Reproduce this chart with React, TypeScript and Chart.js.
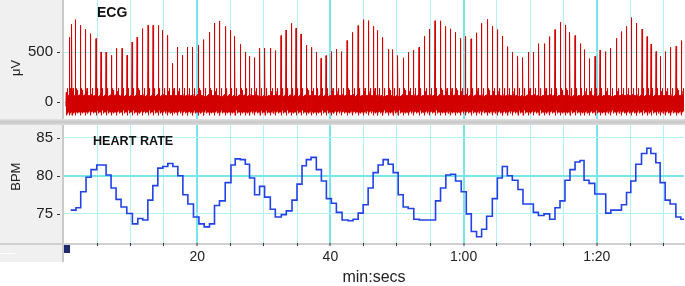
import React, { useEffect, useRef } from 'react';
import { Chart, registerables } from 'chart.js';

Chart.register(...registerables);

// ECG: time (s) of each R peak and its height (µV)
const ecgBeatTimes = [
  0.35, 0.86, 1.20, 1.70, 2.45, 3.20, 4.02, 4.81, 5.56, 6.32,
  7.11, 7.86, 8.72, 9.47, 10.23, 10.98, 11.83, 12.63, 13.38, 14.14,
  14.84, 15.56, 16.29, 17.04, 17.85, 18.60, 19.35, 20.15, 21.01, 21.80,
  22.60, 23.41, 24.21, 24.96, 25.67, 26.47, 27.22, 27.92, 28.62, 29.43,
  30.18, 31.02, 31.77, 32.59, 33.34, 34.14, 34.84, 35.59, 36.39, 37.19,
  37.89, 38.60, 39.35, 40.15, 40.95, 41.70, 42.51, 43.35, 44.17, 44.96,
  45.76, 46.51, 47.14, 47.89, 48.72, 49.40, 50.15, 50.93, 51.73, 52.53,
  53.31, 54.14, 54.93, 55.71, 56.50, 57.29, 58.05, 58.75, 59.55, 60.33,
  61.13, 61.92, 62.74, 63.56, 64.36, 65.11, 65.91, 66.66, 67.37, 68.17,
  68.92, 69.73, 70.53, 71.32, 72.14, 72.93, 73.73, 74.54, 75.29, 75.98,
  76.74, 77.55, 78.20, 78.90, 79.74, 80.50, 81.31, 82.11, 82.96, 83.76,
  84.51, 85.26, 86.02, 86.81, 87.56, 88.16, 88.91, 89.58, 90.33, 91.13,
  91.92, 92.74,
];
const ecgPeaks = [
  100, 650, 780, 827, 770, 730, 687, 637, 503, 503,
  470, 540, 540, 470, 603, 650, 737, 770, 770, 770,
  720, 670, 390, 553, 470, 553, 553, 570, 627, 703,
  793, 813, 760, 720, 660, 580, 503, 460, 447, 543,
  543, 543, 517, 667, 723, 790, 740, 683, 573, 550,
  500, 440, 467, 507, 533, 507, 617, 700, 767, 827,
  817, 760, 720, 650, 530, 527, 467, 445, 500, 523,
  550, 660, 733, 815, 815, 760, 735, 700, 640, 660,
  635, 695, 790, 830, 760, 727, 663, 557, 503, 460,
  447, 503, 503, 587, 587, 657, 727, 800, 773, 700,
  667, 587, 527, 437, 460, 523, 507, 540, 640, 707,
  760, 847, 793, 733, 657, 583, 507, 460, 507, 550,
  560, 617,
];
// hand-typed shape of the noisy baseline between two R peaks
// (fraction of the beat interval, µV)
const ecgTemplateFrac = [
  0.012, 0.03, 0.05, 0.07, 0.09, 0.11, 0.13, 0.15, 0.17, 0.19,
  0.21, 0.23, 0.25, 0.27, 0.29, 0.31, 0.33, 0.35, 0.37, 0.39,
  0.41, 0.43, 0.45, 0.47, 0.49, 0.51, 0.53, 0.55, 0.57, 0.59,
  0.61, 0.63, 0.65, 0.67, 0.69, 0.71, 0.73, 0.75, 0.77, 0.79,
  0.81, 0.83, 0.85, 0.87, 0.89, 0.91, 0.93, 0.95, 0.97,
];
const ecgTemplateVal = [
  -130, 20, -80, 50, -90, 40, -70, 60, -100, 30,
  -60, 80, -80, 110, -50, 140, -40, 120, -70, 60,
  -90, 40, -80, 50, -110, 30, -70, 60, -90, 40,
  -60, 70, -100, 20, -70, 50, -80, 60, -90, 30,
  -60, 70, -80, 40, -100, 50, -70, 80, -60,
];

// Heart rate: start time (s) of each step and its value (BPM)
const hrTimes = [
  1.01, 1.80, 2.51, 3.31, 4.06, 4.92, 6.32, 7.07, 7.82, 8.57,
  9.43, 10.27, 11.08, 11.83, 12.59, 13.34, 14.09, 14.84, 15.59, 16.35,
  17.10, 17.85, 18.60, 19.44, 20.26, 21.05, 21.85, 22.60, 23.35, 24.21,
  25.07, 25.71, 26.47, 27.22, 27.86, 28.62, 29.37, 30.12, 30.98, 31.73,
  32.63, 33.38, 34.24, 34.99, 35.74, 36.39, 37.10, 37.89, 38.65, 39.40,
  40.15, 40.90, 41.76, 42.66, 43.41, 44.17, 44.92, 45.67, 46.42, 47.17,
  47.92, 48.68, 49.43, 50.18, 50.93, 51.68, 52.53, 53.34, 55.79, 56.54,
  57.34, 58.05, 58.80, 59.65, 60.41, 61.16, 61.95, 62.71, 63.46, 64.32,
  65.07, 65.82, 66.57, 67.32, 68.17, 68.92, 70.48, 71.23, 72.08, 72.93,
  73.73, 74.48, 75.23, 75.98, 76.74, 77.49, 78.09, 78.84, 79.70, 81.35,
  82.11, 83.71, 84.47, 85.11, 85.86, 86.72, 87.52, 88.12, 88.87, 89.52,
  90.27, 91.02, 91.88, 92.63, 93.3,
];
const hrValues = [
  75.5, 75.8, 77.9, 79.8, 80.8, 81.4, 80.1, 78.4, 76.9, 75.9,
  75.05, 73.7, 74.4, 74.2, 76.8, 78.7, 81.0, 81.2, 81.6, 81.2,
  80.0, 77.5, 76.3, 74.6, 73.7, 73.3, 73.7, 76.1, 76.7, 79.1,
  81.4, 82.2, 82.1, 81.5, 79.7, 77.5, 78.6, 77.2, 75.6, 74.6,
  74.9, 75.4, 76.8, 78.9, 81.3, 82.1, 82.4, 80.8, 79.3, 77.0,
  76.4, 75.2, 74.2, 74.1, 74.3, 75.1, 76.2, 78.4, 80.4, 81.4,
  82.1, 81.5, 80.4, 77.5, 75.9, 75.7, 74.3, 74.2, 76.7, 78.4,
  80.1, 80.2, 79.3, 77.9, 75.0, 72.7, 72.0, 73.0, 74.7, 77.0,
  79.7, 81.2, 80.0, 79.4, 78.2, 76.3, 75.2, 74.8, 75.0, 74.3,
  75.8, 76.7, 79.4, 80.8, 81.8, 82.0, 79.4, 79.0, 77.6, 75.1,
  75.5, 76.2, 77.8, 79.3, 81.5, 82.9, 83.6, 82.9, 81.7, 79.1,
  76.8, 76.3, 74.6, 74.3, 74.3,
];

// axes
const xGridValues = [0, 5, 10, 15, 20, 25, 30, 35, 40, 45, 50, 55, 60, 65, 70, 75, 80, 85, 90];
const xTickValues = [20, 40, 60, 80];
const xTickLabels = ['20', '40', '1:00', '1:20'];
const xMajorValues = [20, 40, 60, 80];
const ecgTicks = [0, 500];
const hrTicks = [75, 80, 85];
const hrMajorTicks = [80];

const FONT = '"Liberation Sans", Arial, sans-serif';
const MINOR = '#b2f2f6';
const MAJOR = '#78e4ec';
const X_MIN = 0;
const X_MAX = 93.1;

function buildEcg() {
  const pts: { x: number; y: number }[] = [{ x: 0.28, y: -40 }];
  const n = ecgBeatTimes.length;
  for (let i = 0; i < n; i++) {
    const t = ecgBeatTimes[i];
    const rr = i < n - 1 ? ecgBeatTimes[i + 1] - t : t - ecgBeatTimes[i - 1];
    pts.push({ x: t, y: ecgPeaks[i] });
    for (let j = 0; j < ecgTemplateFrac.length; j++) {
      pts.push({ x: t + ecgTemplateFrac[j] * rr, y: ecgTemplateVal[j] });
    }
  }
  return pts;
}

function decor(o: {
  title: string; titleFont: string; titleX: number; titleY: number;
  axisTitle: string; axisX: number; axisY: number;
}) {
  return {
    id: 'decor',
    beforeDraw(chart: any) {
      const { ctx, chartArea: a } = chart;
      ctx.save();
      ctx.fillStyle = '#ffffff';
      ctx.fillRect(a.left, a.top, a.right - a.left, a.bottom - a.top);
      ctx.restore();
    },
    afterDraw(chart: any) {
      const ctx = chart.ctx;
      const y = chart.scales.y;
      ctx.save();
      ctx.strokeStyle = '#333';
      ctx.lineWidth = 1;
      y.ticks.forEach((t: any) => {
        const py = Math.round(y.getPixelForValue(t.value)) + 0.5;
        ctx.beginPath();
        ctx.moveTo(57, py);
        ctx.lineTo(60, py);
        ctx.stroke();
      });
      ctx.fillStyle = '#111';
      ctx.font = o.titleFont;
      ctx.textAlign = 'left';
      ctx.textBaseline = 'alphabetic';
      ctx.fillText(o.title, o.titleX, o.titleY);
      ctx.translate(o.axisX, o.axisY);
      ctx.rotate(-Math.PI / 2);
      ctx.font = '13px ' + FONT;
      ctx.textAlign = 'center';
      ctx.textBaseline = 'middle';
      ctx.fillStyle = '#222';
      ctx.fillText(o.axisTitle, 0, 0);
      ctx.restore();
    },
  };
}

const xGridColor = (c: any) => {
  const v = c.tick ? c.tick.value : 1;
  if (v === 0) return 'rgba(0,0,0,0)';
  return xMajorValues.includes(v) ? MAJOR : MINOR;
};
const xGridWidth = (c: any) => {
  const v = c.tick ? c.tick.value : 1;
  return xMajorValues.includes(v) ? 2 : 1;
};
const fitY = (a: any) => {
  a.width = 64;
  a.paddingTop = 0;
  a.paddingBottom = 0;
  a.paddingLeft = 0;
  a.paddingRight = 0;
};
const fitX = (h: number) => (a: any) => {
  a.height = h;
  a.paddingLeft = 0;
  a.paddingRight = 0;
  a.paddingTop = 0;
  a.paddingBottom = 0;
};

export default function App() {
  const topRef = useRef<HTMLCanvasElement>(null);
  const botRef = useRef<HTMLCanvasElement>(null);

  useEffect(() => {
    Chart.defaults.font.family = FONT;
    const top = new Chart(topRef.current as HTMLCanvasElement, {
      type: 'line',
      data: {
        datasets: [
          {
            data: buildEcg(),
            borderColor: 'rgb(210,0,0)',
            borderWidth: 1,
            pointRadius: 0,
            tension: 0,
            fill: false,
          },
        ],
      },
      options: {
        animation: false,
        responsive: false,
        events: [],
        parsing: false as any,
        layout: { autoPadding: false, padding: { left: 0, right: 1, top: 0, bottom: 0 } },
        plugins: { legend: { display: false }, tooltip: { enabled: false } },
        scales: {
          x: {
            type: 'linear',
            min: X_MIN,
            max: X_MAX,
            afterBuildTicks: (a: any) => { a.ticks = xGridValues.map((v) => ({ value: v })); },
            afterFit: fitX(0),
            ticks: { display: false },
            grid: { color: xGridColor, lineWidth: xGridWidth, drawTicks: false },
            border: { display: false },
          },
          y: {
            type: 'linear',
            min: -167,
            max: 1023,
            afterBuildTicks: (a: any) => { a.ticks = ecgTicks.map((v) => ({ value: v })); },
            afterFit: fitY,
            ticks: { color: '#222', font: { size: 15 }, padding: 11 },
            grid: { color: MINOR, lineWidth: 1, drawTicks: false },
            border: { display: false },
          },
        },
      },
      plugins: [
        decor({
          title: 'ECG', titleFont: 'bold 14px ' + FONT, titleX: 97, titleY: 16.5,
          axisTitle: 'μV', axisX: 16, axisY: 68,
        }),
      ],
    } as any);

    const bot = new Chart(botRef.current as HTMLCanvasElement, {
      type: 'line',
      data: {
        datasets: [
          {
            data: hrTimes.map((t, i) => ({ x: t, y: hrValues[i] })),
            borderColor: '#2142e6',
            borderWidth: 1.6,
            pointRadius: 0,
            stepped: true,
            fill: false,
          },
        ],
      },
      options: {
        animation: false,
        responsive: false,
        events: [],
        parsing: false as any,
        layout: { autoPadding: false, padding: { left: 0, right: 1, top: 0, bottom: 0 } },
        plugins: { legend: { display: false }, tooltip: { enabled: false } },
        scales: {
          x: {
            type: 'linear',
            min: X_MIN,
            max: X_MAX,
            afterBuildTicks: (a: any) => { a.ticks = xGridValues.map((v) => ({ value: v })); },
            afterFit: fitX(43),
            ticks: {
              color: '#222',
              font: { size: 14 },
              padding: 3,
              autoSkip: false,
              maxRotation: 0,
              callback: (v: any) => {
                const i = xTickValues.indexOf(Number(v));
                return i >= 0 ? xTickLabels[i] : '';
              },
            },
            grid: {
              color: xGridColor,
              lineWidth: xGridWidth,
              drawTicks: true,
              tickLength: 3,
              tickWidth: 1,
              tickColor: (c: any) => (c.tick && c.tick.value === 0 ? 'rgba(0,0,0,0)' : '#333'),
            },
            border: { display: false },
            title: {
              display: true,
              text: 'min:secs',
              color: '#222',
              font: { size: 16, lineHeight: 1 },
              padding: { top: 0, bottom: 0 },
            },
          },
          y: {
            type: 'linear',
            min: 71.19,
            max: 86.64,
            afterBuildTicks: (a: any) => { a.ticks = hrTicks.map((v) => ({ value: v })); },
            afterFit: fitY,
            ticks: { color: '#222', font: { size: 15 }, padding: 11 },
            grid: {
              color: (c: any) => (c.tick && hrMajorTicks.includes(c.tick.value) ? MAJOR : MINOR),
              lineWidth: (c: any) => (c.tick && hrMajorTicks.includes(c.tick.value) ? 2 : 1),
              drawTicks: false,
            },
            border: { display: false },
          },
        },
      },
      plugins: [
        decor({
          title: 'HEART RATE', titleFont: 'bold 12.6px ' + FONT, titleX: 93, titleY: 20,
          axisTitle: 'BPM', axisX: 16, axisY: 51.7,
        }),
      ],
    } as any);

    return () => {
      top.destroy();
      bot.destroy();
    };
  }, []);

  const abs = (s: React.CSSProperties): React.CSSProperties => ({ position: 'absolute', ...s });

  return (
    <div style={abs({ left: 0, top: 0, width: 685, height: 286, background: '#ffffff', overflow: 'hidden' })}>
      <div style={abs({ left: 0, top: 0, width: 63, height: 262, background: '#f0f0f0' })} />
      <div style={abs({ left: 62, top: 0, width: 2, height: 262, background: '#c9c9c9' })} />
      <div style={abs({ left: 0, top: 119, width: 685, height: 6, background: 'linear-gradient(#e4e4e4, #c6c6c6 50%, #dedede)' })} />
      <div style={abs({ left: 0, top: 243, width: 685, height: 2, background: '#d0d0d0' })} />
      <div style={abs({ left: 0, top: 253, width: 15, height: 1, background: '#ffffff' })} />
      <div style={abs({ left: 64, top: 245, width: 6, height: 8, background: '#1b2b6e' })} />
      <canvas ref={topRef} width={685} height={119} style={abs({ left: 0, top: 0 })} />
      <canvas ref={botRef} width={685} height={161} style={abs({ left: 0, top: 125 })} />
    </div>
  );
}
